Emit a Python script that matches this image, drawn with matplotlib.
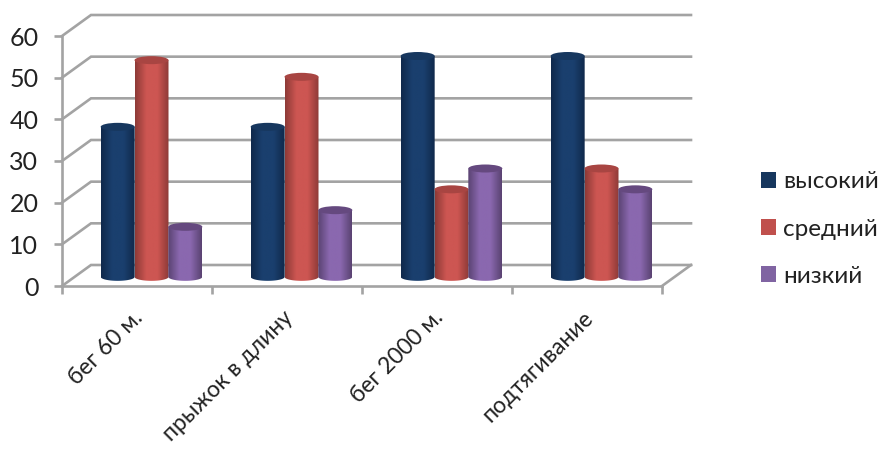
from matplotlib import pyplot as plt
from matplotlib.patches import Ellipse, Patch, PathPatch
from matplotlib.path import Path
from matplotlib.colors import LinearSegmentedColormap
from matplotlib.transforms import ScaledTranslation
import numpy as np

categories = ['бег 60 м.', 'прыжок в длину', 'бег 2000 м.', 'подтягивание']
series_names = ['высокий', 'средний', 'низкий']
vysokiy = [36, 36, 53, 53]
sredniy = [52, 48, 21, 26]
nizkiy = [12, 16, 26, 21]
y_ticks = [0, 10, 20, 30, 40, 50, 60]

plt.rcParams['font.family'] = ['Lato', 'DejaVu Sans']

W, H = 880, 450
fig = plt.figure(figsize=(W / 100, H / 100), dpi=100)
ax = fig.add_axes([62 / W, (H - 286) / H, 600 / W, 250 / H])

GREY = '#a3a3a3'
# profundidad del "piso" en unidades de datos
DX = 29 / 150
DY = 21 / 250 * 60
BAR_W = 34 / 150
ELL_H = 8 / 250 * 60
BASE = 2.2

# paredes de atras
for v in y_ticks:
    ax.plot([0, DX, 4 + DX], [v, v + DY, v + DY], color=GREY, lw=1.9,
            clip_on=False, zorder=1, solid_joinstyle='miter')
ax.plot([4, 4 + DX], [0, DY], color=GREY, lw=1.9, clip_on=False, zorder=1)

values = [vysokiy, sredniy, nizkiy]
edge_colors = ['#10294c', '#8e3a37', '#5a4372']
mid_colors = ['#1a3f6e', '#cd5652', '#8a68af']
top_colors = ['#17375e', '#a84542', '#65497f']
legend_colors = ['#17375e', '#c0504d', '#8064a2']

z = 3
for i in range(4):
    for j in range(3):
        val = values[j][i]
        xc = i + .5 + DX / 2 + (j - 1) * BAR_W * .995
        xl, xr = xc - BAR_W / 2, xc + BAR_W / 2
        top = val + BASE
        cmap = LinearSegmentedColormap.from_list(
            'c', [edge_colors[j], mid_colors[j], mid_colors[j], edge_colors[j]])
        grad = np.linspace(0, 1, 64).reshape(1, -1)
        im = ax.imshow(grad, cmap=cmap, extent=[xl, xr, BASE - ELL_H / 2, top],
                       aspect='auto', zorder=z, clip_on=True)
        # contorno del cilindro: rectangulo + media elipse abajo
        t = np.linspace(np.pi, 2 * np.pi, 40)
        px = xc + BAR_W / 2 * np.cos(t)
        py = BASE + ELL_H / 2 * np.sin(t)
        verts = list(zip(px, py)) + [(xr, top), (xl, top), (px[0], py[0])]
        clip = PathPatch(Path(verts), transform=ax.transData, fc='none', ec='none')
        ax.add_patch(clip)
        im.set_clip_path(clip)
        ax.add_patch(Ellipse((xc, top), BAR_W, ELL_H, fc=top_colors[j], ec='none',
                             zorder=z + .5, clip_on=False))
        z += 1

ax.set_xlim(0, 4)
ax.set_ylim(0, 60)
ax.patch.set_visible(False)
for s in ['top', 'right']:
    ax.spines[s].set_visible(False)
for s in ['left', 'bottom']:
    ax.spines[s].set_color(GREY)
    ax.spines[s].set_linewidth(1.9)
    ax.spines[s].set_zorder(2)

ax.set_yticks(y_ticks)
ax.set_xticks([0, 1, 2, 3, 4])
ax.set_xticklabels([])
ax.set_xticks([.5, 1.5, 2.5, 3.5], minor=True)
labels = ax.set_xticklabels(categories, minor=True, rotation=45, ha='right', va='top',
                            rotation_mode='anchor', fontsize=16.5, color='#222222')
ax.tick_params(axis='x', which='minor', length=0, pad=15)
ax.tick_params(axis='x', which='major', length=6, width=1.9, color=GREY)
ax.tick_params(axis='y', length=6, width=1.9, color=GREY, labelsize=18,
               labelcolor='#222222', pad=11)

# correr las etiquetas a la izquierda
offset = ScaledTranslation(-5 / 100, 0, fig.dpi_scale_trans)
for lab in ax.xaxis.get_minorticklabels():
    lab.set_transform(lab.get_transform() + offset)

handles = [Patch(fc=c, ec='none') for c in legend_colors]
fig.legend(handles, series_names, loc='center left', bbox_to_anchor=(761 / W, (H - 229) / H),
           frameon=False, fontsize=17.5, handlelength=.62, handleheight=.62,
           handletextpad=.3, labelspacing=1.08, labelcolor='#222222', borderpad=0,
           borderaxespad=0)

fig.savefig('out.png', dpi=100)
